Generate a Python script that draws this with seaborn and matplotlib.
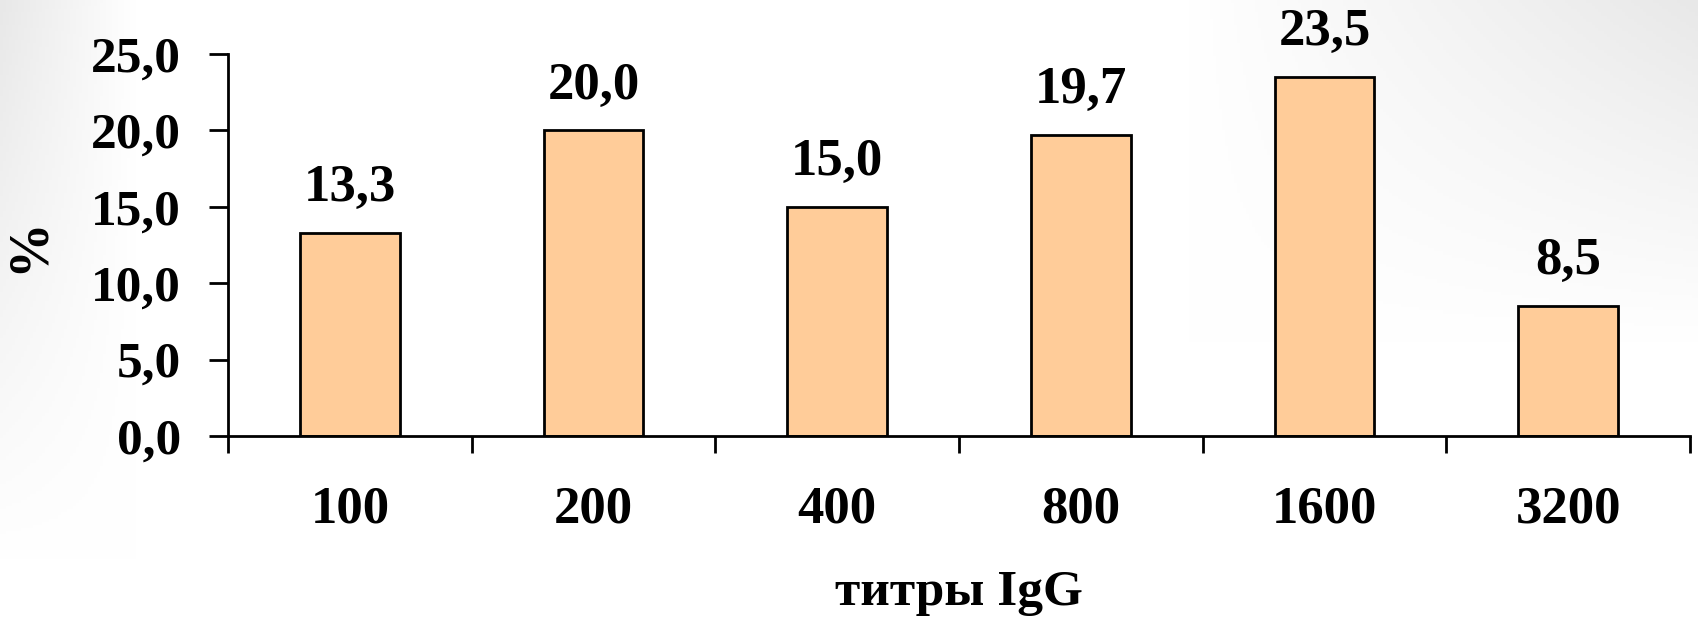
import matplotlib
matplotlib.use("Agg")
import matplotlib.pyplot as plt
import seaborn as sns
import pandas as pd
import numpy as np

categories = ["100", "200", "400", "800", "1600", "3200"]
values = [13.3, 20.0, 15.0, 19.7, 23.5, 8.5]
value_labels = ["13,3", "20,0", "15,0", "19,7", "23,5", "8,5"]
y_ticks = [0, 5, 10, 15, 20, 25]
y_tick_labels = ["0,0", "5,0", "10,0", "15,0", "20,0", "25,0"]
x_title = "титры IgG"
y_title = "%"

sns.set_theme(style="white")
plt.rcParams['font.family'] = ['Liberation Serif', 'DejaVu Serif']
plt.rcParams['font.weight'] = 'bold'
plt.rcParams['text.color'] = 'black'
plt.rcParams['axes.labelcolor'] = 'black'
plt.rcParams['xtick.color'] = 'black'
plt.rcParams['ytick.color'] = 'black'

df = pd.DataFrame({"titer": categories, "pct": values})

fig = plt.figure(figsize=(16.98, 6.21), dpi=100)
fig.patch.set_facecolor("white")

# subtle background gradient (grey corners)
bg = fig.add_axes([0, 0, 1, 1], zorder=-10)
H, W = 200, 560
yy, xx = np.mgrid[0:H, 0:W]
xn = xx / (W - 1)
yn = yy / (H - 1)
left = np.clip(1 - xn / 0.08, 0, 1) * np.clip(1 - yn / 0.9, 0, 1)
right = np.clip((xn - 0.70) / 0.30, 0, 1) * np.clip(1 - yn / 0.55, 0, 1)
shade = 1 - 0.09 * np.maximum(left, right)
bg.imshow(np.dstack([shade, shade, shade]), aspect="auto", extent=[0, 1, 0, 1], origin="upper")
bg.axis("off")

ax = fig.add_axes([0.1343, 0.298, 0.9953 - 0.1343, 0.913 - 0.298])
ax.patch.set_alpha(0)
sns.barplot(data=df, x="titer", y="pct", ax=ax, color="#FFCC99", saturation=1,
            width=0.41, edgecolor="black", linewidth=2)

ax.set_xlim(-0.5, len(categories) - 0.5)
ax.set_ylim(0, 25)
ax.set_yticks(y_ticks)
ax.set_yticklabels(y_tick_labels, fontsize=37, fontweight="bold", color="black")
ax.set_xticks(np.arange(len(categories) + 1) - 0.5)
ax.set_xticklabels([])
ax.set_xticks(np.arange(len(categories)), minor=True)
ax.set_xticklabels(categories, minor=True, fontsize=38, fontweight="bold", color="black")
ax.tick_params(axis="x", which="major", direction="out", length=12, width=2, color="black", bottom=True)
ax.tick_params(axis="x", which="minor", length=0, pad=36)
ax.tick_params(axis="y", direction="out", length=14, width=2, color="black", left=True, pad=20)

for s in ["top", "right"]:
    ax.spines[s].set_visible(False)
for s in ["left", "bottom"]:
    ax.spines[s].set_color("black")
    ax.spines[s].set_linewidth(2)

for i, (v, lab) in enumerate(zip(values, value_labels)):
    ax.annotate(lab, xy=(i, v), xytext=(0, 15), textcoords="offset points",
                ha="center", va="bottom", fontsize=38, fontweight="bold", color="black")

ax.set_xlabel(x_title, fontsize=37, fontweight="bold", labelpad=26, color="black")
ax.set_ylabel(y_title, fontsize=40, fontweight="bold", labelpad=26, color="black")

fig.savefig("out.png", dpi=100)
